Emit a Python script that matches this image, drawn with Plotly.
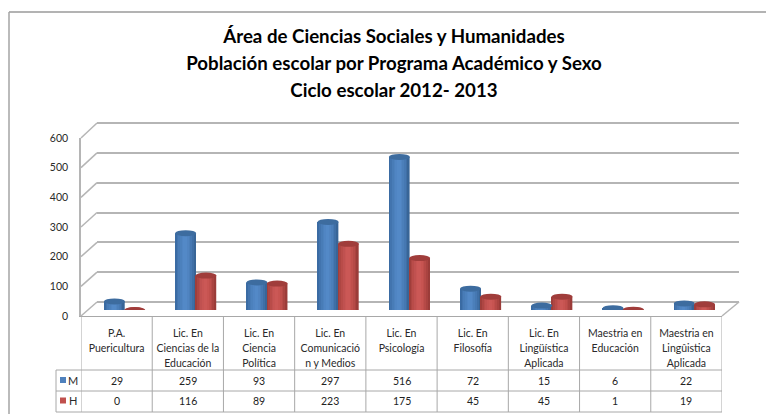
import plotly.graph_objects as go

categories = ["P.A.<br>Puericultura", "Lic. En<br>Ciencias de la<br>Educación", "Lic. En<br>Ciencia<br>Política",
              "Lic. En<br>Comunicació<br>n y Medios", "Lic. En<br>Psicología", "Lic. En<br>Filosofía",
              "Lic. En<br>Lingüística<br>Aplicada", "Maestria en<br>Educación", "Maestria en<br>Lingûistica<br>Aplicada"]
m_values = [29, 259, 93, 297, 516, 72, 15, 6, 22]
h_values = [0, 116, 89, 223, 175, 45, 45, 1, 19]
y_ticks = [0, 100, 200, 300, 400, 500, 600]
title_lines = ["Área de Ciencias Sociales y Humanidades",
               "Población escolar por Programa Académico y Sexo",
               "Ciclo escolar 2012- 2013"]

W, H = 766, 414
FONT = "Lato"
GRID = "#b5b5b5"
TABLE = "#a8a8a8"
TEXT = "#2a2a2a"
fx = lambda x: x / W
fy = lambda y: 1 - y / H

# geometry of the pseudo-3D box (pixels)
FRONT = dict(l=81, r=722, y0=316, y6=138)
MID = dict(l=89, r=730, y0=310, y6=132)
BACK = dict(l=97, r=739, y0=302, y6=123)
PAD = 3  # px of axis range added round the back wall so the end gridlines are drawn

BAR_W = 0.285
STRIPS = 12
blue = ["#3a6ba3", "#4274ae", "#487cb7", "#4c81bd", "#5085c3", "#5389c7", "#5389c7", "#5084c1", "#4b7fba", "#4678b2", "#3f6fa6", "#386597"]
red = ["#a03e3b", "#ae4643", "#b94c49", "#c05150", "#c75553", "#cb5856", "#cb5856", "#c75451", "#c04f4c", "#b64a47", "#aa4340", "#9b3c39"]
series = [("M", m_values, blue, "#3d6c9f", -BAR_W / 2), ("H", h_values, red, "#a03d3b", BAR_W / 2)]

fig = go.Figure()
xs = list(range(len(categories)))
hide = dict(mode="none", hoverinfo="skip", showlegend=False, x=[0], y=[0])
fig.add_trace(go.Scatter(xaxis="x", yaxis="y", **hide))
fig.add_trace(go.Scatter(xaxis="x2", yaxis="y2", **hide))

shapes = []
for name, vals, shades, cap, shift in series:
    for j, col in enumerate(shades):
        sw = BAR_W / STRIPS
        fig.add_trace(go.Bar(x=xs, y=vals, name=name, xaxis="x3", yaxis="y3", width=sw * 1.06,
                             offset=shift - BAR_W / 2 + j * sw, marker=dict(color=col, line=dict(width=0)),
                             showlegend=False, hoverinfo="skip"))
    for x, v in zip(xs, vals):
        shapes.append(dict(type="circle", layer="below", xref="x3", yref="y3", xsizemode="pixel", ysizemode="pixel",
                           xanchor=x + shift, yanchor=0, x0=-10, x1=10, y0=-3, y1=3,
                           fillcolor=shades[5], line=dict(width=0)))
        shapes.append(dict(type="circle", layer="above", xref="x3", yref="y3", xsizemode="pixel", ysizemode="pixel",
                           xanchor=x + shift, yanchor=v, x0=-10.5, x1=10.5, y0=-3, y1=3,
                           fillcolor=cap, line=dict(width=0)))

# side-wall and floor diagonals
paper = dict(type="line", xref="paper", yref="paper")
for t in y_ticks:
    f = t / y_ticks[-1]
    y1 = FRONT["y0"] + (FRONT["y6"] - FRONT["y0"]) * f
    y2 = BACK["y0"] + (BACK["y6"] - BACK["y0"]) * f
    shapes.append(dict(paper, x0=fx(FRONT["l"]), x1=fx(BACK["l"]), y0=fy(y1), y1=fy(y2), line=dict(color=GRID, width=1.5)))
shapes.append(dict(paper, x0=fx(FRONT["r"]), x1=fx(BACK["r"]), y0=fy(FRONT["y0"]), y1=fy(BACK["y0"]), line=dict(color=GRID, width=1.5)))

# frame
shapes.append(dict(paper, x0=fx(9), x1=1, y0=fy(12), y1=fy(12), line=dict(color="#9a9a9a", width=1.5)))
shapes.append(dict(paper, x0=fx(9), x1=fx(9), y0=fy(12), y1=0, line=dict(color="#a5a5a5", width=1.5)))

# data table
ROW = [370, 391, 412]
vline = dict(type="line", xref="x", yref="paper", line=dict(color=TABLE, width=1))
for k in range(len(categories) + 1):
    shapes.append(dict(vline, x0=k - 0.5, x1=k - 0.5, y0=fy(ROW[2]), y1=fy(FRONT["y0"])))
for r in ROW:
    shapes.append(dict(paper, x0=fx(56), x1=fx(FRONT["r"]), y0=fy(r), y1=fy(r), line=dict(color=TABLE, width=1)))
shapes.append(dict(paper, x0=fx(56), x1=fx(56), y0=fy(ROW[0]), y1=fy(ROW[2]), line=dict(color=TABLE, width=1)))

annotations = []
for (name, vals, shades, cap, shift), yc, key in zip(series, [380.5, 401], ["#4f81bd", "#c0504d"]):
    shapes.append(dict(type="rect", xref="paper", yref="paper", x0=fx(60), x1=fx(66), y0=fy(yc - 3.5), y1=fy(yc + 2.5),
                       fillcolor=key, line=dict(width=0)))
    annotations.append(dict(text=name, xref="paper", yref="paper", x=fx(73), y=fy(yc - 0.5), xanchor="center", yanchor="middle",
                            showarrow=False, font=dict(family=FONT, size=11, color=TEXT)))
    for x, v in zip(xs, vals):
        annotations.append(dict(text=str(v), xref="x", yref="paper", x=x, y=fy(yc), xanchor="center", yanchor="middle",
                                showarrow=False, font=dict(family=FONT, size=10.5, color="#222222")))

axis_off = dict(showgrid=False, zeroline=False, showticklabels=False, ticks="", showline=False, automargin=False)
k_back = 600 / (BACK["y0"] - BACK["y6"])
fig.update_layout(
    width=W, height=H, autosize=False, margin=dict(l=0, r=0, t=0, b=0, pad=0, autoexpand=False),
    paper_bgcolor="white", plot_bgcolor="rgba(0,0,0,0)", barmode="overlay", showlegend=False,
    font=dict(family=FONT, color=TEXT),
    title=dict(text="<br>".join(f'<span style="font-size:18.7px">{t}</span>' for t in title_lines),
               x=394 / W, xanchor="center", y=fy(42.5), yanchor="top", yref="container",
               font=dict(family=FONT, size=20.8, color="#000000", weight="bold")),
    xaxis=dict(domain=[fx(FRONT["l"]), fx(FRONT["r"])], range=[-0.5, 8.5], anchor="y", tickmode="array", tickvals=xs,
               ticktext=[c.replace("<br>", '</span><br><span style="font-size:10.5px">').join(['<span style="font-size:10.5px">', '</span>']) for c in categories],
               ticks="", showgrid=False, zeroline=False, showline=True, linecolor=TABLE, linewidth=1, automargin=False,
               tickangle=0, tickfont=dict(family=FONT, size=11.2, color=TEXT), ticklabelstandoff=7),
    yaxis=dict(domain=[fy(FRONT["y0"]), fy(FRONT["y6"])], range=[0, 600], anchor="x", tickmode="array", tickvals=y_ticks,
               ticks="", showgrid=False, zeroline=False, showline=True, linecolor=GRID, linewidth=1.5, automargin=False,
               tickfont=dict(family=FONT, size=10.5, color=TEXT), ticklabelstandoff=9),
    xaxis2=dict(domain=[fx(BACK["l"]), fx(BACK["r"])], range=[-0.5, 8.5], anchor="y2", **axis_off),
    yaxis2=dict(domain=[fy(BACK["y0"] + PAD), fy(BACK["y6"] - PAD)], range=[-PAD * k_back, 600 + PAD * k_back], anchor="x2",
                tickmode="array", tickvals=y_ticks, automargin=False,
                showgrid=True, gridcolor=GRID, gridwidth=1.8, zeroline=False, showticklabels=False, ticks="", showline=False),
    xaxis3=dict(domain=[fx(MID["l"]), fx(MID["r"])], range=[-0.5, 8.5], anchor="y3", **axis_off),
    yaxis3=dict(domain=[fy(MID["y0"]), fy(MID["y6"])], range=[0, 600], anchor="x3", **axis_off),
    shapes=shapes, annotations=annotations,
)
fig.write_html("out.html", config=dict(displayModeBar=False), post_script="document.body.style.margin='0';")
